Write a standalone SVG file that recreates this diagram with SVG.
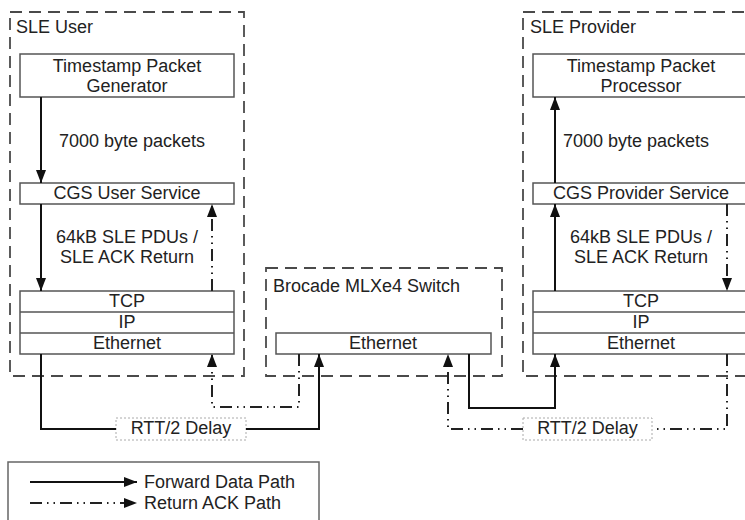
<svg xmlns="http://www.w3.org/2000/svg" width="745" height="520" viewBox="0 0 745 520">
<style>
  text { font-family: "Liberation Sans", Arial, sans-serif; font-size: 18px; fill: #222; }
  .c { text-anchor: middle; }
  .grp { fill: none; stroke: #4a4a4a; stroke-width: 1.8; stroke-dasharray: 12 7; }
  .box { fill: #fff; stroke: #555; stroke-width: 1.5; }
  .div { stroke: #555; stroke-width: 1.5; }
  .rtt { fill: #fff; stroke: #aaa; stroke-width: 1; stroke-dasharray: 2 2; }
  .fwd { fill: none; stroke: #111; stroke-width: 2; }
  .ret { fill: none; stroke: #222; stroke-width: 2; stroke-dasharray: 12 5 1.5 5 1.5 5; }
  .legend { fill: #fff; stroke: #666; stroke-width: 1.5; }
</style>
<defs>
  <marker id="ah" markerUnits="userSpaceOnUse" markerWidth="13" markerHeight="10" refX="13" refY="5" orient="auto">
    <path d="M0,0 L13,5 L0,10 z" fill="#111" stroke="none"/>
  </marker>
</defs>
<rect width="745" height="520" fill="#fff"/>

<g id="sle-user">
  <rect class="grp" x="10" y="12" width="234" height="364"/>
  <text x="16" y="33">SLE User</text>
</g>
<g id="sle-provider">
  <rect class="grp" x="523" y="12" width="234" height="364"/>
  <text x="530" y="33">SLE Provider</text>
</g>
<g id="switch">
  <rect class="grp" x="266" y="268" width="236" height="108"/>
  <text x="273" y="292">Brocade MLXe4 Switch</text>
</g>

<g id="ts-generator">
  <rect class="box" x="20" y="54" width="214" height="43"/>
  <text class="c" x="127" y="72">Timestamp Packet</text>
  <text class="c" x="127" y="92">Generator</text>
</g>
<g id="cgs-user">
  <rect class="box" x="20" y="183" width="214" height="21"/>
  <text class="c" x="127" y="199">CGS User Service</text>
</g>
<g id="user-stack">
  <rect class="box" x="20" y="291" width="214" height="63"/>
  <line class="div" x1="20" y1="312" x2="234" y2="312"/>
  <line class="div" x1="20" y1="333" x2="234" y2="333"/>
  <text class="c" x="127" y="307">TCP</text>
  <text class="c" x="127" y="328">IP</text>
  <text class="c" x="127" y="349">Ethernet</text>
</g>

<g id="ts-processor">
  <rect class="box" x="533" y="54" width="214" height="43"/>
  <text class="c" x="641" y="72">Timestamp Packet</text>
  <text class="c" x="641" y="92">Processor</text>
</g>
<g id="cgs-provider">
  <rect class="box" x="533" y="183" width="214" height="21"/>
  <text class="c" x="641" y="199">CGS Provider Service</text>
</g>
<g id="provider-stack">
  <rect class="box" x="533" y="291" width="214" height="63"/>
  <line class="div" x1="533" y1="312" x2="747" y2="312"/>
  <line class="div" x1="533" y1="333" x2="747" y2="333"/>
  <text class="c" x="641" y="307">TCP</text>
  <text class="c" x="641" y="328">IP</text>
  <text class="c" x="641" y="349">Ethernet</text>
</g>

<g id="switch-ethernet">
  <rect class="box" x="276" y="333" width="215" height="21"/>
  <text class="c" x="383" y="349">Ethernet</text>
</g>

<g id="rtt-left">
  <rect class="rtt" x="116" y="418" width="130" height="22"/>
  <text class="c" x="181" y="434">RTT/2 Delay</text>
</g>
<g id="rtt-right">
  <rect class="rtt" x="523" y="418" width="129" height="22"/>
  <text class="c" x="587.5" y="434">RTT/2 Delay</text>
</g>

<g id="connectors">
  <!-- forward data path -->
  <line class="fwd" x1="41" y1="97" x2="41" y2="183" marker-end="url(#ah)"/>
  <line class="fwd" x1="41" y1="204" x2="41" y2="291" marker-end="url(#ah)"/>
  <polyline class="fwd" points="41,354 41,429 116,429"/>
  <polyline class="fwd" points="246,429 319,429 319,354" marker-end="url(#ah)"/>
  <polyline class="fwd" points="469,354 469,408 555,408 555,354" marker-end="url(#ah)"/>
  <line class="fwd" x1="555" y1="291" x2="555" y2="204" marker-end="url(#ah)"/>
  <line class="fwd" x1="555" y1="183" x2="555" y2="97" marker-end="url(#ah)"/>
  <!-- return ACK path -->
  <line class="ret" x1="727" y1="204" x2="727" y2="291" marker-end="url(#ah)"/>
  <polyline class="ret" points="727,354 727,429 652,429"/>
  <polyline class="ret" points="523,429 448,429 448,354" marker-end="url(#ah)"/>
  <polyline class="ret" points="299,354 299,407 212,407 212,354" marker-end="url(#ah)"/>
  <line class="ret" x1="212" y1="291" x2="212" y2="204" marker-end="url(#ah)"/>
  <!-- labels -->
  <text x="59" y="147">7000 byte packets</text>
  <text x="563" y="147">7000 byte packets</text>
  <text class="c" x="127" y="243">64kB SLE PDUs /</text>
  <text class="c" x="127" y="263">SLE ACK Return</text>
  <text class="c" x="641" y="243">64kB SLE PDUs /</text>
  <text class="c" x="641" y="263">SLE ACK Return</text>
</g>

<g id="legend">
  <rect class="legend" x="8" y="462" width="311" height="70"/>
  <line class="fwd" x1="30" y1="482" x2="137" y2="482" marker-end="url(#ah)"/>
  <line class="ret" x1="30" y1="503" x2="137" y2="503" marker-end="url(#ah)"/>
  <text x="144" y="488">Forward Data Path</text>
  <text x="144" y="509">Return ACK Path</text>
</g>
</svg>
